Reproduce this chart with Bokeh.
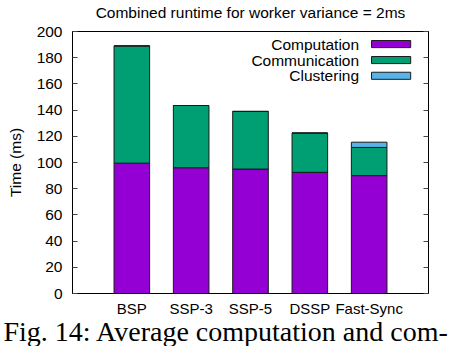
from bokeh.plotting import figure
from bokeh.models import Range1d, LinearAxis, FixedTicker, Title
from bokeh.core.properties import value
from bokeh.embed import file_html
from bokeh.resources import INLINE

categories = ["BSP", "SSP-3", "SSP-5", "DSSP", "Fast-Sync"]
computation = [99.5, 96, 95, 92.5, 90]
communication = [89.5, 47.5, 44, 30, 21.5]
clustering = [0, 0, 0, 0, 4]
series_names = ["Computation", "Communication", "Clustering"]
series_colors = ["#9400D3", "#009E73", "#56B4E9"]
y_ticks = [0, 20, 40, 60, 80, 100, 120, 140, 160, 180, 200]
title_text = "Combined runtime for worker variance = 2ms"
y_label = "Time (ms)"
caption = "Fig. 14: Average computation and com-"

FONT = "Liberation Sans"
xs = list(range(1, len(categories) + 1))

p = figure(width=452, height=346, output_backend="svg", toolbar_location=None,
           x_range=Range1d(0, 6), y_range=Range1d(0, 200),
           min_border_left=72, min_border_right=24, min_border_top=31, min_border_bottom=53,
           x_axis_location=None, y_axis_location=None)
p.grid.visible = False
p.outline_line_color = "black"
p.outline_line_width = 1
p.background_fill_color = "white"
p.border_fill_color = "white"

# title drawn as the label of a bare top axis
top = LinearAxis(ticker=FixedTicker(ticks=[]), axis_label=title_text)
top.major_tick_in = 0
top.major_tick_out = 0
top.minor_tick_line_color = None
top.axis_line_color = "black"
top.major_label_text_font_size = "0px"
top.axis_label_text_font = FONT
top.axis_label_text_font_size = "15.5px"
top.axis_label_text_font_style = "normal"
top.axis_label_text_color = "black"
top.axis_label_standoff = 11
p.add_layout(top, "above")

# axes
left = LinearAxis(ticker=FixedTicker(ticks=y_ticks), axis_label=y_label)
left.major_tick_in = 5
left.major_tick_out = 0
left.minor_tick_line_color = None
left.major_tick_line_color = "#444444"
left.axis_line_color = "black"
left.major_label_text_font = FONT
left.major_label_text_font_size = "15.5px"
left.major_label_text_color = "black"
left.major_label_standoff = 10
left.axis_label_text_font = FONT
left.axis_label_text_font_size = "15.5px"
left.axis_label_text_font_style = "normal"
left.axis_label_text_color = "black"
left.axis_label_standoff = 10
p.add_layout(left, "left")

right = LinearAxis(ticker=FixedTicker(ticks=y_ticks))
right.major_tick_in = 5
right.major_tick_out = 0
right.minor_tick_line_color = None
right.major_tick_line_color = "#444444"
right.axis_line_color = "black"
right.major_label_text_font_size = "0px"
p.add_layout(right, "right")

bottom = LinearAxis(ticker=FixedTicker(ticks=xs),
                    major_label_overrides={x: c for x, c in zip(xs, categories)})
bottom.major_tick_in = 0
bottom.major_tick_out = 0
bottom.minor_tick_line_color = None
bottom.axis_line_color = "black"
bottom.major_label_text_font = FONT
bottom.major_label_text_font_size = "15px"
bottom.major_label_text_color = "black"
bottom.major_label_standoff = 6
p.add_layout(bottom, "below")

cap = Title(text=caption, align="left", offset=-69, standoff=-11,
            text_font="Liberation Serif", text_font_size="28px",
            text_font_style="normal", text_color="black")
p.add_layout(cap, "below")

# thin spacer under the caption (keeps the caption's baseline just above the edge)
spacer = Title(text=" ", standoff=2, text_font_size="1px")
p.add_layout(spacer, "below")

# stacked bars
series = [computation, communication, clustering]
base = [0.0] * len(xs)
for vals, col in zip(series, series_colors):
    tops = [b + v for b, v in zip(base, vals)]
    p.vbar(x=xs, bottom=base, top=tops, width=0.6, fill_color=col,
           line_color="#1a1a1a", line_width=1)
    base = tops

# legend (gnuplot style: text then swatch)
leg_y = [190.4, 178.2, 166.2]
p.text(x=[4.83] * 3, y=leg_y, text=series_names, text_align="right",
       text_baseline="middle", text_font=value(FONT), text_font_size="15.5px",
       text_color="black")
p.quad(left=[5.04] * 3, right=[5.70] * 3,
       bottom=[y - 2.7 for y in leg_y], top=[y + 2.7 for y in leg_y],
       fill_color=series_colors, line_color="#1a1a1a", line_width=1)

open("out.html", "w").write(file_html(p, INLINE))
